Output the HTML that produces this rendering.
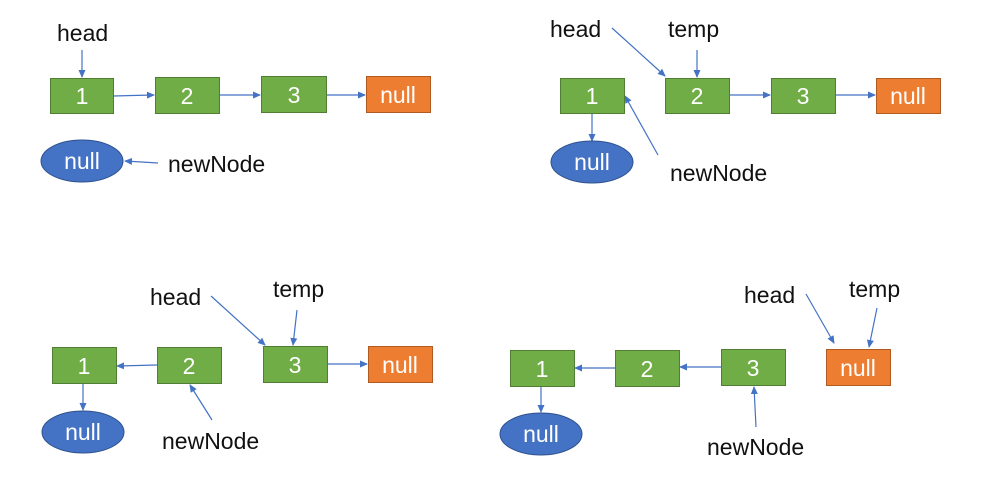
<!DOCTYPE html>
<html><head><style>body{margin:0;background:#fff}svg{display:block}text{font-family:"Liberation Sans","Noto Sans CJK SC",sans-serif}</style></head>
<body>
<svg width="981" height="489" viewBox="0 0 981 489" xmlns="http://www.w3.org/2000/svg">
<defs><marker id="a" markerWidth="8" markerHeight="8" refX="7" refY="4" orient="auto" markerUnits="userSpaceOnUse"><path d="M0,0.5 L8,4 L0,7.5z" fill="#4472c4"/></marker></defs>
<g stroke="#4472c4" stroke-width="1.2" fill="none" marker-end="url(#a)">
<line x1="82" y1="50" x2="82" y2="77"/>
<line x1="113" y1="96" x2="154" y2="95"/>
<line x1="219" y1="95" x2="260" y2="95"/>
<line x1="326" y1="95" x2="365" y2="95"/>
<line x1="158" y1="163" x2="125" y2="161"/>
<line x1="612" y1="28" x2="665" y2="76"/>
<line x1="697" y1="50" x2="697" y2="77"/>
<line x1="729" y1="95" x2="770" y2="95"/>
<line x1="835" y1="95" x2="875" y2="95"/>
<line x1="592" y1="113" x2="592" y2="141"/>
<line x1="658" y1="155" x2="625" y2="96"/>
<line x1="157" y1="365" x2="117" y2="366"/>
<line x1="327" y1="364" x2="367" y2="364"/>
<line x1="83" y1="383" x2="83" y2="410"/>
<line x1="211" y1="296" x2="265" y2="345"/>
<line x1="297" y1="310" x2="293" y2="345"/>
<line x1="212" y1="420" x2="190" y2="385"/>
<line x1="615" y1="368" x2="575" y2="368"/>
<line x1="721" y1="367" x2="680" y2="367"/>
<line x1="541" y1="386" x2="541" y2="412"/>
<line x1="806" y1="294" x2="834" y2="343"/>
<line x1="877" y1="308" x2="869" y2="347"/>
<line x1="756" y1="427" x2="754" y2="387"/>
</g>
<g stroke-width="1">
<g fill="#70ad47" stroke="#507e32">
<rect x="50.5" y="78.5" width="63" height="35"/><rect x="155.5" y="77.5" width="64" height="36"/><rect x="261.5" y="76.5" width="65" height="36"/>
<rect x="560.5" y="78.5" width="64" height="35"/><rect x="665.5" y="78.5" width="64" height="35"/><rect x="771.5" y="78.5" width="64" height="35"/>
<rect x="52.5" y="347.5" width="64" height="36"/><rect x="157.5" y="347.5" width="64" height="36"/><rect x="263.5" y="346.5" width="64" height="36"/>
<rect x="510.5" y="350.5" width="64" height="36"/><rect x="615.5" y="350.5" width="64" height="36"/><rect x="721.5" y="349.5" width="64" height="36"/>
</g>
<g fill="#ed7d31" stroke="#ae5a21">
<rect x="366.5" y="76.5" width="64" height="36"/><rect x="876.5" y="78.5" width="64" height="35"/>
<rect x="368.5" y="346.5" width="64" height="36"/><rect x="826.5" y="349.5" width="64" height="36"/>
</g>
<g fill="#4472c4" stroke="#2f528f">
<ellipse cx="82" cy="161" rx="41" ry="21"/><ellipse cx="592" cy="162" rx="41" ry="21"/>
<ellipse cx="83" cy="432" rx="41" ry="21"/><ellipse cx="541" cy="434" rx="41" ry="21"/>
</g>
</g>
<g fill="#fff" font-size="23" text-anchor="middle">
<text x="82" y="104">1</text><text x="187" y="104">2</text><text x="294" y="103">3</text><text x="398" y="103">null</text><text x="82" y="169">null</text>
<text x="592" y="104">1</text><text x="697" y="104">2</text><text x="803" y="104">3</text><text x="908" y="104">null</text><text x="592" y="170">null</text>
<text x="84" y="374">1</text><text x="189" y="374">2</text><text x="295" y="373">3</text><text x="400" y="373">null</text><text x="83" y="440">null</text>
<text x="542" y="377">1</text><text x="647" y="377">2</text><text x="753" y="376">3</text><text x="858" y="376">null</text><text x="541" y="442">null</text>
</g>
<g fill="#111" font-size="23">
<text x="57" y="41">head</text><text x="168" y="172">newNode</text>
<text x="550" y="37">head</text><text x="668" y="37">temp</text><text x="670" y="181">newNode</text>
<text x="150" y="305">head</text><text x="273" y="297">temp</text><text x="162" y="449">newNode</text>
<text x="744" y="303">head</text><text x="849" y="297">temp</text><text x="707" y="455">newNode</text>
</g>
</svg>
</body></html>
